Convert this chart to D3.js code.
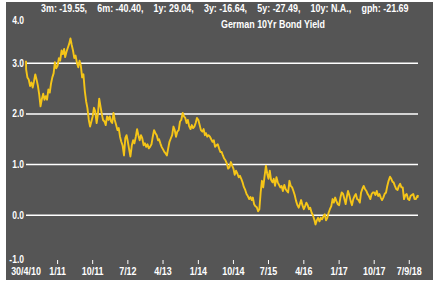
<!DOCTYPE html>
<html>
<head>
<meta charset="utf-8">
<script src="https://cdn.jsdelivr.net/npm/d3@7"></script>
<style>
  body { margin: 0; background: #fff; }
  text { font-family: "Liberation Sans", Arial, sans-serif; font-weight: bold; fill: #fff; }
</style>
</head>
<body>
<svg id="chart" width="445" height="282"></svg>
<script>
// summary stats shown across the top
var statNames = ["3m", "6m", "1y", "3y", "5y", "10y", "gph"];
var statValues = ["-19.55", "-40.40", "29.04", "-16.64", "-27.49", "N.A.", "-21.69"];
var title = "German 10Yr Bond Yield";

var yTicks = [-1, 0, 1, 2, 3, 4];
var gridValues = [0, 1, 2, 3];
var xTickDates = ["2010-04-30", "2011-01-01", "2011-10-01", "2012-07-01", "2013-04-01", "2014-01-01",
  "2014-10-01", "2015-07-01", "2016-04-01", "2017-01-01", "2017-10-01", "2018-07-01"];
var xTickLabels = ["30/4/10", "1/11", "10/11", "7/12", "4/13", "1/14", "10/14", "7/15", "4/16", "1/17", "10/17", "7/9/18"];

var startDate = "2010-04-30", endDate = "2018-09-07";
var startValue = 3.05;
var firstMonth = "2010-05";
var sampleDays = [1, 11, 21];
// yield samples, three per month (1st, 11th, 21st), May 2010 onwards
var yields = [
  // 2010
  [2.88, 2.72, 2.68], [2.55, 2.62, 2.52], [2.64, 2.78, 2.68], [2.55, 2.38, 2.15],
  [2.30, 2.40, 2.28], [2.35, 2.28, 2.48], [2.42, 2.60, 2.72], [2.80, 3.02, 2.90],
  // 2011
  [2.95, 3.10, 3.05], [3.25, 3.18, 3.28], [3.12, 3.22, 3.30], [3.38, 3.49, 3.36],
  [3.25, 3.10, 3.15], [3.00, 2.92, 3.05], [2.95, 2.72, 2.78], [2.45, 2.25, 2.12],
  [1.88, 1.75, 1.85], [1.95, 2.12, 2.05], [1.82, 2.00, 2.30], [2.15, 2.00, 1.88],
  // 2012
  [1.85, 1.78, 1.95], [1.88, 1.95, 1.85], [1.82, 2.02, 1.88], [1.78, 1.68, 1.72],
  [1.55, 1.45, 1.38], [1.18, 1.52, 1.58], [1.45, 1.30, 1.16], [1.38, 1.48, 1.42],
  [1.55, 1.70, 1.58], [1.48, 1.58, 1.52], [1.38, 1.42, 1.35], [1.40, 1.32, 1.35],
  // 2013
  [1.40, 1.55, 1.68], [1.62, 1.58, 1.48], [1.50, 1.42, 1.35], [1.30, 1.25, 1.22],
  [1.18, 1.32, 1.45], [1.52, 1.58, 1.75], [1.68, 1.55, 1.65], [1.68, 1.85, 1.88],
  [2.02, 1.95, 1.92], [1.82, 1.88, 1.76], [1.70, 1.78, 1.72], [1.75, 1.82, 1.92],
  // 2014
  [1.88, 1.78, 1.68], [1.65, 1.70, 1.58], [1.62, 1.55, 1.58], [1.55, 1.50, 1.45],
  [1.48, 1.35, 1.38], [1.40, 1.32, 1.25], [1.25, 1.18, 1.12], [1.08, 1.02, 0.92],
  [0.95, 1.05, 0.98], [0.92, 0.80, 0.88], [0.82, 0.75, 0.78], [0.72, 0.65, 0.56],
  // 2015
  [0.50, 0.42, 0.38], [0.32, 0.36, 0.30], [0.35, 0.22, 0.18], [0.16, 0.08, 0.12],
  [0.45, 0.68, 0.55], [0.78, 0.98, 0.82], [0.72, 0.88, 0.70], [0.65, 0.72, 0.58],
  [0.75, 0.65, 0.60], [0.55, 0.58, 0.48], [0.60, 0.52, 0.48], [0.45, 0.68, 0.58],
  // 2016
  [0.55, 0.48, 0.40], [0.28, 0.20, 0.15], [0.22, 0.30, 0.20], [0.12, 0.18, 0.25],
  [0.20, 0.12, 0.15], [0.05, 0.00, -0.08], [-0.18, -0.10, -0.05], [-0.12, -0.05, -0.08],
  [-0.02, 0.02, -0.10], [-0.05, 0.05, 0.12], [0.18, 0.32, 0.25], [0.35, 0.28, 0.22],
  // 2017
  [0.20, 0.35, 0.45], [0.42, 0.32, 0.22], [0.35, 0.48, 0.40], [0.28, 0.20, 0.32],
  [0.38, 0.42, 0.32], [0.30, 0.25, 0.45], [0.52, 0.58, 0.52], [0.48, 0.42, 0.38],
  [0.32, 0.42, 0.45], [0.45, 0.40, 0.48], [0.38, 0.42, 0.35], [0.30, 0.35, 0.42],
  // 2018
  [0.45, 0.58, 0.68], [0.76, 0.72, 0.66], [0.65, 0.58, 0.52], [0.50, 0.58, 0.62],
  [0.55, 0.55, 0.32], [0.40, 0.42, 0.32], [0.30, 0.38, 0.40], [0.42, 0.32, 0.32]
];
var endValues = [0.38, 0.36, 0.40]; // Sep 2018: 1st, 4th, 7th
var endDays = [1, 4, 7];

var parse = d3.timeParse("%Y-%m-%d");
var data = [{date: parse(startDate), v: startValue}];
var m0 = d3.timeParse("%Y-%m")(firstMonth);
yields.forEach(function(triple, i) {
  var month = d3.timeMonth.offset(m0, i);
  triple.forEach(function(v, j) {
    data.push({date: d3.timeDay.offset(month, sampleDays[j] - 1), v: v});
  });
});
var lastMonth = d3.timeMonth.offset(m0, yields.length);
endValues.forEach(function(v, j) {
  data.push({date: d3.timeDay.offset(lastMonth, endDays[j] - 1), v: v});
});

var svg = d3.select("#chart");
var sx = 0.85; // text in the source is horizontally squeezed

var plot = {left: 26, right: 418, top: 12.5, bottom: 266};

svg.append("rect")
  .attr("x", 6).attr("y", 2)
  .attr("width", 427).attr("height", 278)
  .attr("fill", "#555555");

var x = d3.scaleTime()
  .domain([parse(startDate), parse(endDate)])
  .range([plot.left, plot.right]);
var y = d3.scaleLinear()
  .domain([-1, 4])
  .range([plot.bottom, plot.top]);

// gridlines
svg.append("g").selectAll("line")
  .data(gridValues)
  .enter().append("line")
  .attr("x1", plot.left).attr("x2", plot.right)
  .attr("y1", function(d) { return y(d); })
  .attr("y2", function(d) { return y(d); })
  .attr("stroke", "#fff")
  .attr("stroke-width", 1.5);

// y labels, the outer two pulled inside the panel
svg.append("g").selectAll("text")
  .data(yTicks)
  .enter().append("text")
  .attr("transform", function(d) {
    var yy = y(d);
    if (d === 4) yy += 7.5;
    if (d === -1) yy -= 6.5;
    return "translate(" + 24 + "," + (yy + 3.5) + ") scale(" + sx + ",1)";
  })
  .attr("text-anchor", "end")
  .style("font-size", "10px")
  .text(function(d) { return d.toFixed(1); });

// x ticks and labels
var xt = svg.append("g");
xTickDates.forEach(function(ds, i) {
  var xx = x(parse(ds));
  if (i > 0) {
    xt.append("line")
      .attr("x1", xx).attr("x2", xx)
      .attr("y1", 260).attr("y2", 264)
      .attr("stroke", "#fff").attr("stroke-width", 1);
  }
  xt.append("text")
    .attr("transform", "translate(" + xx + ",275) scale(" + sx + ",1)")
    .attr("text-anchor", "middle")
    .style("font-size", "10.5px")
    .text(xTickLabels[i]);
});

// the yield line
var line = d3.line()
  .x(function(d) { return x(d.date); })
  .y(function(d) { return y(d.v); });

svg.append("path")
  .datum(data)
  .attr("d", line)
  .attr("fill", "none")
  .attr("stroke", "#f5c518")
  .attr("stroke-width", 1.9)
  .attr("stroke-linejoin", "round");

// header
var head = svg.append("text")
  .attr("transform", "translate(41,12) scale(" + sx + ",1)")
  .style("font-size", "10.5px");
statNames.forEach(function(n, i) {
  head.append("tspan")
    .attr("dx", i === 0 ? 0 : 12)
    .text(n + ": " + statValues[i] + (i < statNames.length - 1 ? "," : ""));
});

svg.append("text")
  .attr("transform", "translate(273,28) scale(" + sx + ",1)")
  .attr("text-anchor", "middle")
  .style("font-size", "10.5px")
  .text(title);
</script>
</body>
</html>
